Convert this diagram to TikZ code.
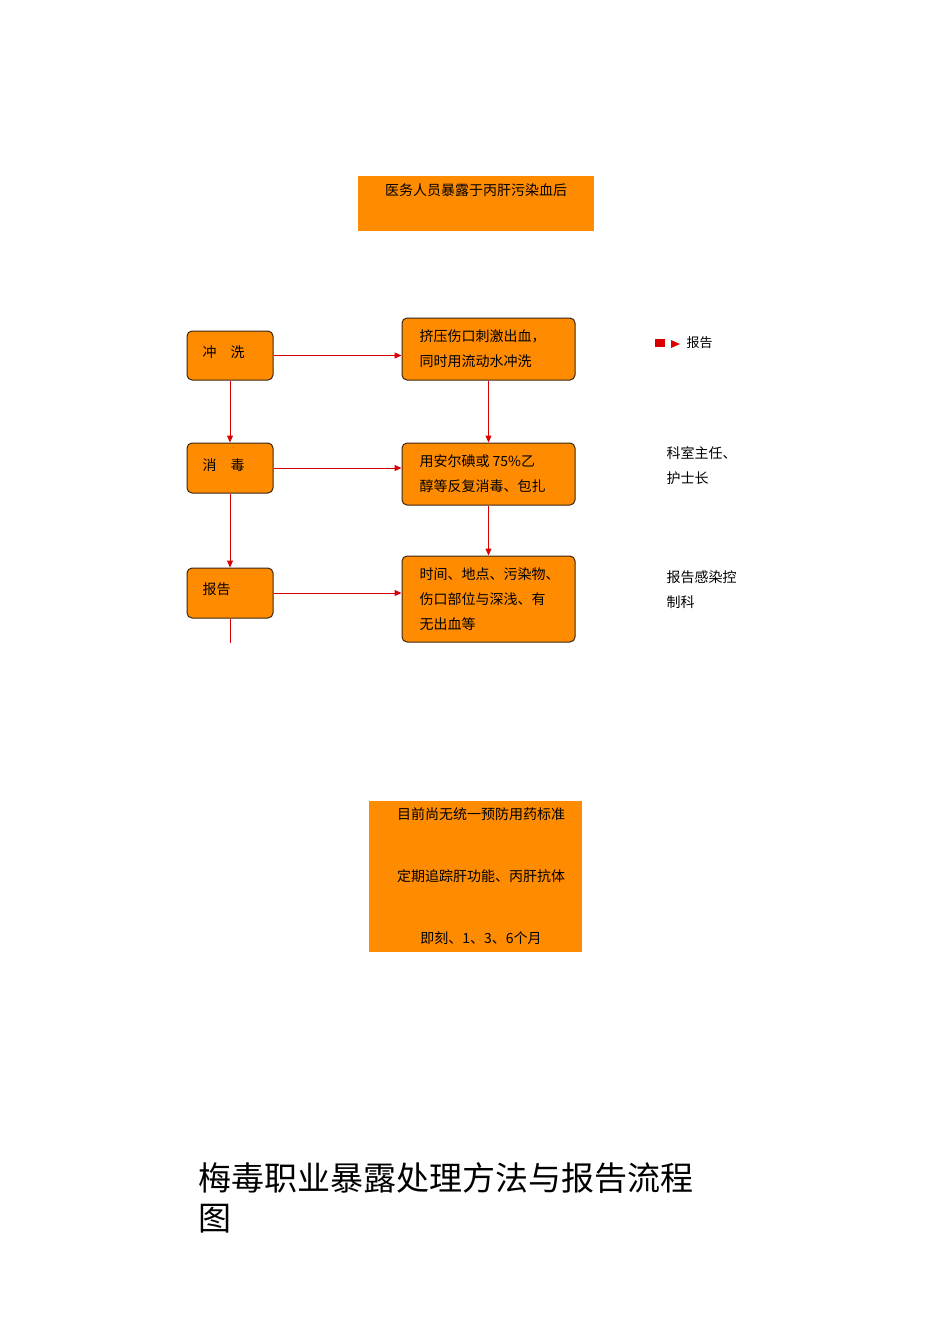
\documentclass[tikz,border=0pt]{standalone}
\usepackage{fontspec}
\setmainfont{Noto Sans CJK SC}
\usetikzlibrary{arrows.meta}
\tikzset{
 ob/.style={fill=orange!90!yellow,draw=black!70!brown,line width=1pt,rounded corners=5pt,inner sep=0pt},
 sq/.style={fill=orange!90!yellow,inner sep=0pt},
 ar/.style={draw=red!85!black,line width=1pt,-{Triangle[length=7pt,width=6pt]}},
 tx/.style={font=\fontsize{14}{25}\selectfont,align=left,anchor=north west},
}
\begin{document}
\begin{tikzpicture}[x=1pt,y=-1pt]
\useasboundingbox (0,0) rectangle (950,1344);
\fill[orange!90!yellow] (358,176) rectangle (594,231);
\node[tx,anchor=north] (top) at (476,180) {医务人员暴露于丙肝污染血后};
\node[ob,minimum width=86,minimum height=49] (a1) at (230,355.5) {};
\node[tx,anchor=west] at (199,352) {冲\quad 洗};
\node[ob,minimum width=86,minimum height=50] (a2) at (230,468) {};
\node[tx,anchor=west] at (199,465) {消\quad 毒};
\node[ob,minimum width=86,minimum height=50] (a3) at (230,593) {};
\node[tx,anchor=west] at (199,589) {报告};
\node[ob,minimum width=173,minimum height=62] (b1) at (488.5,349) {};
\node[tx] at (416,326) {挤压伤口刺激出血，\\同时用流动水冲洗};
\node[ob,minimum width=173,minimum height=62] (b2) at (488.5,474) {};
\node[tx] at (416,451) {用安尔碘或\ 75\%乙\\醇等反复消毒、包扎};
\node[ob,minimum width=173,minimum height=86] (b3) at (488.5,599) {};
\node[tx] at (416,564) {时间、地点、污染物、\\伤口部位与深浅、有\\无出血等};
\draw[ar] (a1) -- (a1 -| b1.west);
\draw[ar] (a2) -- (a2 -| b2.west);
\draw[ar] (a3) -- (a3 -| b3.west);
\draw[ar] (a1) -- (a2);
\draw[ar] (a2) -- (a3);
\draw[ar] (b1) -- (b2);
\draw[ar] (b2) -- (b3);
\coordinate (e) at (230,643);
\draw[red!85!black,line width=1pt] (a3.south) -- (e);
\fill[red!85!black] (655,339) rectangle (665,347);
\fill[red!85!black] (671,340) -- (680,344) -- (671,348) -- cycle;
\node[tx,font=\fontsize{13}{20}\selectfont] (r1) at (683,333) {报告};
\node[tx] (r2) at (663,443) {科室主任、\\护士长};
\node[tx] (r3) at (663,567) {报告感染控\\制科};
\fill[orange!90!yellow] (369,801) rectangle (582,952);
\node[tx,anchor=north] (c1) at (481,804) {目前尚无统一预防用药标准};
\node[tx,anchor=north] (c2) at (481,866) {定期追踪肝功能、丙肝抗体};
\node[tx,anchor=north] (c3) at (481,928) {即刻、1、3、6个月};
\node[anchor=north west,align=left,font=\fontsize{33}{40}\selectfont,inner sep=0pt] (title) at (198,1162) {梅毒职业暴露处理方法与报告流程\\图};
\end{tikzpicture}
\end{document}
